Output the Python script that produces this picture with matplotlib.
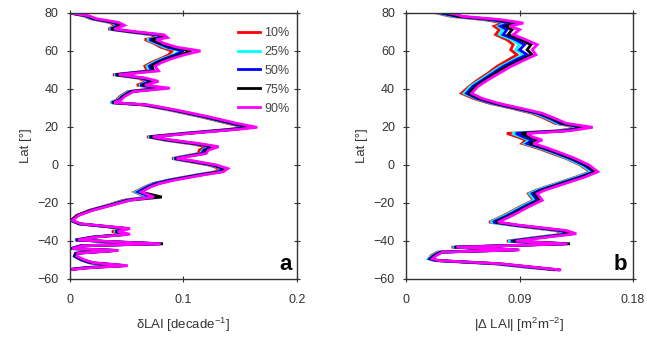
import numpy as np
import matplotlib
matplotlib.use("Agg")
import matplotlib.pyplot as plt

plt.rcParams['font.family'] = ['Liberation Sans', 'DejaVu Sans']
plt.rcParams['mathtext.fontset'] = 'custom'
plt.rcParams['mathtext.rm'] = 'Liberation Sans'
plt.rcParams['mathtext.it'] = 'Liberation Sans:italic'

labels = ['10%', '25%', '50%', '75%', '90%']
colors = ['#ff0000', '#00ffff', '#0000ff', '#000000', '#ff00ff']

# panel a: latitude profile of delta LAI (decade^-1)
lat_a = [80, 78.5, 77, 75, 73.5, 71.5, 70, 68.5, 67, 66,
         64, 62, 60, 58, 56, 54, 52, 49.5, 47.5, 45.7,
         44, 42, 40.4, 38.6, 36, 34.2, 32.8, 31.6, 29, 25.4,
         21.9, 19.8, 18.7, 16.6, 14.8, 13.1, 11, 9.6, 7.8, 6,
         3.4, 2.2, 0, -1.9, -3.6, -5.4, -8, -9.8, -11.6, -14.2,
         -16.9, -18.6, -21.2, -23.9, -26.5, -29.2, -31, -33.5, -35, -36.5,
         -38, -39.5, -40.5, -41.5, -42.5, -44, -45, -46.5, -48, -50,
         -51.5, -53, -54, -55]

p10_a = [0.000, 0.012, 0.018, 0.035, 0.040, 0.034, 0.052, 0.072, 0.075, 0.066,
         0.074, 0.080, 0.090, 0.087, 0.080, 0.072, 0.066, 0.068, 0.038, 0.060,
         0.068, 0.059, 0.076, 0.051, 0.044, 0.041, 0.036, 0.064, 0.087, 0.115,
         0.139, 0.154, 0.139, 0.099, 0.068, 0.083, 0.108, 0.120, 0.114, 0.113,
         0.090, 0.101, 0.122, 0.132, 0.128, 0.110, 0.086, 0.073, 0.066, 0.057,
         0.068, 0.047, 0.033, 0.017, 0.006, 0.001, 0.008, 0.048, 0.037, 0.047,
         0.019, 0.005, 0.038, 0.076, 0.009, 0.001, 0.039, 0.005, 0.004, 0.010,
         0.017, 0.046, 0.014, 0.000]
p25_a = [0.000, 0.013, 0.019, 0.037, 0.042, 0.035, 0.054, 0.075, 0.078, 0.068,
         0.076, 0.083, 0.098, 0.091, 0.082, 0.074, 0.068, 0.070, 0.039, 0.062,
         0.070, 0.061, 0.078, 0.052, 0.045, 0.042, 0.036, 0.065, 0.089, 0.117,
         0.141, 0.157, 0.141, 0.101, 0.069, 0.085, 0.111, 0.124, 0.117, 0.115,
         0.091, 0.103, 0.124, 0.134, 0.130, 0.111, 0.087, 0.074, 0.067, 0.058,
         0.070, 0.049, 0.034, 0.018, 0.007, 0.001, 0.008, 0.049, 0.039, 0.049,
         0.020, 0.005, 0.039, 0.078, 0.010, 0.001, 0.040, 0.005, 0.004, 0.010,
         0.018, 0.047, 0.015, 0.000]
p50_a = [0.000, 0.014, 0.020, 0.038, 0.043, 0.036, 0.055, 0.077, 0.080, 0.070,
         0.078, 0.086, 0.100, 0.093, 0.084, 0.076, 0.070, 0.072, 0.040, 0.063,
         0.072, 0.062, 0.080, 0.053, 0.046, 0.043, 0.037, 0.066, 0.090, 0.118,
         0.142, 0.158, 0.142, 0.102, 0.070, 0.086, 0.112, 0.125, 0.118, 0.116,
         0.092, 0.104, 0.125, 0.135, 0.131, 0.112, 0.088, 0.075, 0.068, 0.060,
         0.072, 0.050, 0.035, 0.018, 0.007, 0.001, 0.008, 0.050, 0.040, 0.050,
         0.020, 0.005, 0.040, 0.080, 0.010, 0.001, 0.040, 0.005, 0.004, 0.010,
         0.018, 0.048, 0.015, 0.000]
p75_a = [0.000, 0.015, 0.021, 0.040, 0.045, 0.037, 0.057, 0.080, 0.083, 0.072,
         0.080, 0.090, 0.107, 0.097, 0.087, 0.078, 0.072, 0.074, 0.041, 0.065,
         0.074, 0.064, 0.083, 0.054, 0.047, 0.044, 0.038, 0.067, 0.091, 0.120,
         0.144, 0.161, 0.144, 0.104, 0.071, 0.088, 0.114, 0.128, 0.120, 0.118,
         0.093, 0.106, 0.127, 0.137, 0.133, 0.114, 0.090, 0.078, 0.070, 0.062,
         0.081, 0.052, 0.036, 0.019, 0.007, 0.001, 0.009, 0.051, 0.041, 0.051,
         0.021, 0.006, 0.041, 0.082, 0.011, 0.002, 0.041, 0.006, 0.005, 0.012,
         0.020, 0.049, 0.019, 0.001]
p90_a = [0.000, 0.017, 0.023, 0.043, 0.048, 0.039, 0.060, 0.083, 0.086, 0.076,
         0.083, 0.094, 0.115, 0.101, 0.090, 0.081, 0.075, 0.078, 0.043, 0.067,
         0.078, 0.066, 0.088, 0.056, 0.048, 0.045, 0.039, 0.069, 0.093, 0.122,
         0.147, 0.165, 0.147, 0.106, 0.073, 0.090, 0.117, 0.131, 0.122, 0.120,
         0.094, 0.108, 0.129, 0.139, 0.135, 0.116, 0.092, 0.079, 0.071, 0.063,
         0.074, 0.053, 0.037, 0.020, 0.008, 0.002, 0.010, 0.053, 0.042, 0.053,
         0.022, 0.007, 0.042, 0.080, 0.012, 0.002, 0.043, 0.007, 0.006, 0.013,
         0.021, 0.051, 0.020, 0.002]

# panel b: latitude profile of |delta LAI| (m2 m-2)
lat_b = [80, 79.2, 78.2, 76.5, 74.7, 73, 71.2, 68.6, 65.9, 63.3,
         60.6, 58, 55.3, 51.8, 48.3, 44.8, 41.3, 37.7, 35.1, 32.5,
         29.8, 27.2, 24.5, 21.9, 19.8, 18, 16.6, 14.8, 13.1, 11.3,
         8.7, 6, 3.4, 0, -3.6, -6.3, -9.8, -13.3, -15.1, -18.6,
         -22.1, -25.7, -28.3, -30.1, -31.8, -34.5, -36.2, -38.3, -40.1, -41.5,
         -43.3, -44.7, -45.9, -47.7, -49.4, -50.3, -52, -53.8, -55.2]

p10_b = [0.024, 0.029, 0.036, 0.062, 0.077, 0.070, 0.074, 0.071, 0.080, 0.085,
         0.083, 0.088, 0.081, 0.072, 0.065, 0.057, 0.050, 0.044, 0.053, 0.066,
         0.084, 0.100, 0.110, 0.118, 0.137, 0.121, 0.080, 0.088, 0.095, 0.092,
         0.105, 0.116, 0.127, 0.138, 0.146, 0.135, 0.119, 0.103, 0.097, 0.101,
         0.090, 0.080, 0.072, 0.066, 0.084, 0.118, 0.127, 0.101, 0.080, 0.124,
         0.036, 0.084, 0.025, 0.020, 0.018, 0.022, 0.069, 0.095, 0.117]
p25_b = [0.025, 0.031, 0.038, 0.065, 0.080, 0.073, 0.077, 0.074, 0.084, 0.090,
         0.087, 0.093, 0.085, 0.075, 0.067, 0.059, 0.051, 0.046, 0.055, 0.068,
         0.086, 0.102, 0.112, 0.120, 0.139, 0.123, 0.084, 0.091, 0.098, 0.094,
         0.107, 0.118, 0.128, 0.139, 0.147, 0.136, 0.120, 0.104, 0.098, 0.102,
         0.091, 0.081, 0.073, 0.067, 0.085, 0.120, 0.128, 0.102, 0.081, 0.125,
         0.037, 0.085, 0.026, 0.021, 0.018, 0.023, 0.070, 0.096, 0.118]
p50_b = [0.027, 0.033, 0.040, 0.067, 0.083, 0.075, 0.080, 0.077, 0.087, 0.094,
         0.090, 0.096, 0.087, 0.077, 0.069, 0.061, 0.053, 0.048, 0.056, 0.069,
         0.087, 0.104, 0.114, 0.122, 0.141, 0.125, 0.087, 0.093, 0.100, 0.096,
         0.109, 0.120, 0.130, 0.141, 0.149, 0.138, 0.122, 0.106, 0.100, 0.104,
         0.093, 0.083, 0.075, 0.069, 0.087, 0.122, 0.130, 0.104, 0.083, 0.127,
         0.038, 0.087, 0.027, 0.022, 0.019, 0.024, 0.072, 0.098, 0.120]
p75_b = [0.030, 0.036, 0.042, 0.071, 0.087, 0.079, 0.084, 0.081, 0.091, 0.099,
         0.096, 0.100, 0.091, 0.080, 0.071, 0.063, 0.055, 0.050, 0.058, 0.071,
         0.089, 0.106, 0.116, 0.124, 0.143, 0.127, 0.092, 0.097, 0.105, 0.098,
         0.111, 0.122, 0.132, 0.143, 0.150, 0.140, 0.124, 0.108, 0.102, 0.106,
         0.095, 0.085, 0.077, 0.071, 0.089, 0.124, 0.132, 0.106, 0.085, 0.130,
         0.039, 0.089, 0.028, 0.023, 0.020, 0.025, 0.074, 0.100, 0.121]
p90_b = [0.034, 0.040, 0.045, 0.075, 0.093, 0.082, 0.090, 0.085, 0.095, 0.104,
         0.100, 0.103, 0.094, 0.083, 0.074, 0.065, 0.057, 0.052, 0.060, 0.073,
         0.091, 0.108, 0.118, 0.127, 0.148, 0.130, 0.096, 0.100, 0.108, 0.101,
         0.113, 0.124, 0.134, 0.145, 0.152, 0.142, 0.126, 0.110, 0.104, 0.108,
         0.097, 0.087, 0.079, 0.073, 0.091, 0.127, 0.135, 0.108, 0.087, 0.128,
         0.040, 0.090, 0.029, 0.024, 0.021, 0.026, 0.075, 0.101, 0.122]

series_a = [p10_a, p25_a, p50_a, p75_a, p90_a]
series_b = [p10_b, p25_b, p50_b, p75_b, p90_b]

fig = plt.figure(figsize=(6.47, 3.41), dpi=100)
ax_a = fig.add_axes([0.108, 0.182, 0.351, 0.780])
ax_b = fig.add_axes([0.6275, 0.182, 0.351, 0.780])

panels = [
	(ax_a, lat_a, series_a, [0, 0.1, 0.2], ['0', '0.1', '0.2'], 0.2,
	 r'δLAI [decade$^{-1}$]', 'a'),
	(ax_b, lat_b, series_b, [0, 0.09, 0.18], ['0', '0.09', '0.18'], 0.18,
	 r'|Δ LAI| [m$^2$m$^{-2}$]', 'b'),
]

for ax, lat, series, xt, xtl, xmax, xlab, tag in panels:
	for vals, col, lab in zip(series, colors, labels):
		ax.plot(vals, lat, color=col, lw=2.0, label=lab, solid_joinstyle='miter')
	ax.set_xlim(0, xmax)
	ax.set_ylim(-60, 80)
	ax.set_xticks(xt)
	ax.set_xticklabels(xtl)
	ax.set_yticks(np.arange(-60, 81, 20))
	ax.tick_params(direction='inout', length=4, width=0.8, top=True, right=True,
	               labelsize=9, colors='#333333', pad=6)
	ax.tick_params(axis='x', pad=9)
	for sp in ax.spines.values():
		sp.set_linewidth(1.0)
		sp.set_color('#333333')
	ax.set_xlabel(xlab, fontsize=9.5, color='#333333', labelpad=7)
	ax.set_ylabel('Lat [°]', fontsize=9.5, color='#333333', labelpad=4)
	ax.text(0.975, 0.015, tag, transform=ax.transAxes, ha='right', va='bottom',
	        fontsize=16, fontweight='bold')

leg = ax_a.legend(loc='upper right', bbox_to_anchor=(1.0, 0.975), frameon=False,
                  fontsize=9, handlelength=1.8, handletextpad=0.3, labelspacing=0.55,
                  borderaxespad=0.2)
for t in leg.get_texts():
	t.set_color('#444444')

fig.savefig('out.png', dpi=100)
